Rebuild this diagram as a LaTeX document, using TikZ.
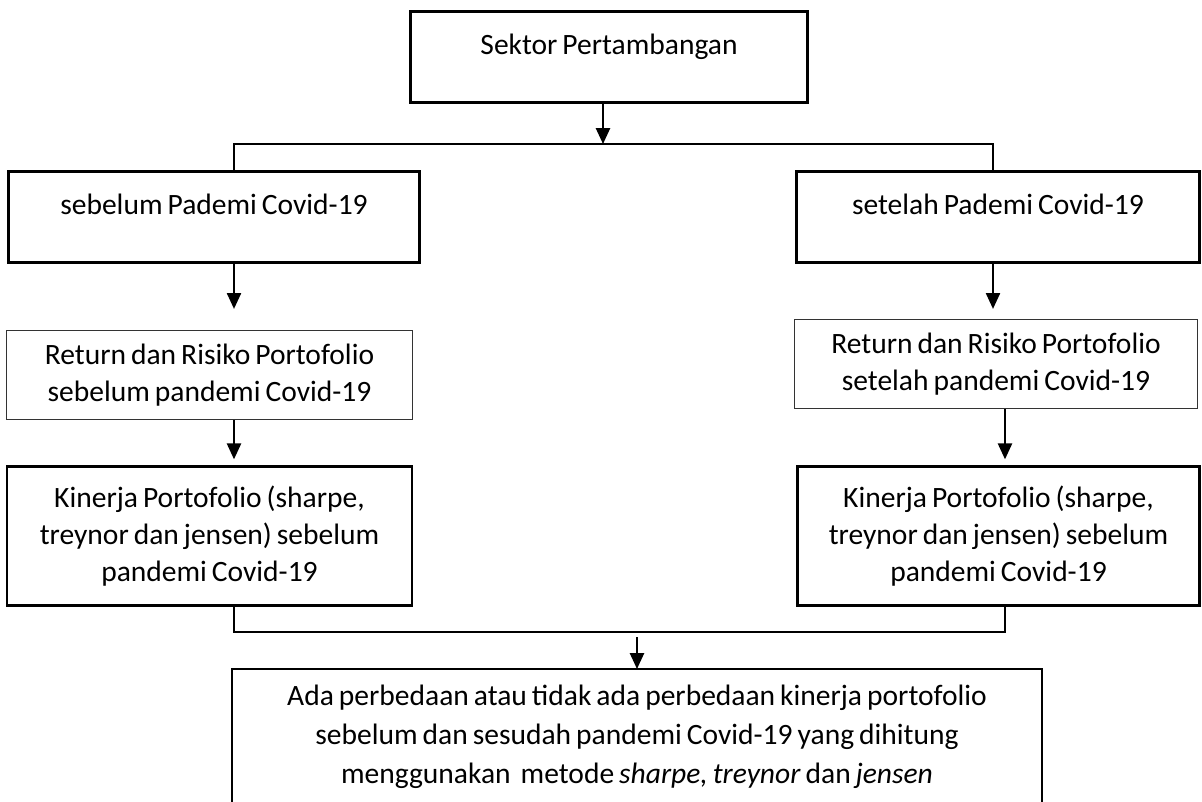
\documentclass[tikz,border=0pt]{standalone}
\usepackage{fontspec}
\setmainfont{Carlito}[WordSpace=0.75]
\usetikzlibrary{arrows.meta,positioning}

\begin{document}
\begin{tikzpicture}[x=0.1mm,y=-0.1mm,
    font=\fontsize{8.4pt}{10.5pt}\selectfont,
    >={Triangle[length=4.5pt,width=4pt]},
    garis/.style={line width=0.55pt},
    kotak/.style={draw,line width=0.8pt,align=center},
    kotaktipis/.style={draw=black!80,line width=0.4pt,align=center},
    judul/.style={kotak,inner ysep=0pt,text height=4.3mm,text depth=4.8mm}]

    \useasboundingbox (0,0) rectangle (1202,802);

    \node[judul,minimum width=39.7mm,minimum height=9.1mm] (sektor) at (609,57) {Sektor Pertambangan};

    \node[judul,minimum width=41.1mm,minimum height=9.1mm] (sebelum) at (214,217) {sebelum Pademi Covid-19};
    \node[judul,minimum width=40.3mm,minimum height=9.1mm] (setelah) at (998,217) {setelah Pademi Covid-19};

    \node[kotaktipis,minimum width=40.6mm,minimum height=8.9mm] (ret1) [below=6.6mm of sebelum,xshift=-0.45mm]
        {Return dan Risiko Portofolio\\sebelum pandemi Covid-19};
    \node[kotaktipis,minimum width=40.3mm,minimum height=8.9mm] (ret2) [below=5.5mm of setelah,xshift=-0.2mm]
        {Return dan Risiko Portofolio\\setelah pandemi Covid-19};

    \node[kotak,minimum width=40.5mm,minimum height=13.9mm] (kin1) [below=4.5mm of ret1]
        {Kinerja Portofolio (sharpe,\\treynor dan jensen) sebelum\\pandemi Covid-19};
    \node[kotak,minimum width=40.2mm,minimum height=13.9mm] (kin2) [below=5.6mm of ret2,xshift=0.25mm]
        {Kinerja Portofolio (sharpe,\\treynor dan jensen) sebelum\\pandemi Covid-19};

    \node[anchor=north,align=center,minimum width=80.8mm,inner ysep=1.5mm] (hasil) at (637,669)
        {Ada perbedaan atau tidak ada perbedaan kinerja portofolio\\[0.7pt]
         sebelum dan sesudah pandemi Covid-19 yang dihitung\\[0.7pt]
         menggunakan\ \ metode \textit{sharpe, treynor} dan \textit{jensen}};
    \draw[line width=0.6pt] (hasil.north west) rectangle ([yshift=-20mm]hasil.north east);

    % titik bantu
    \coordinate (kiri) at (234,0);
    \coordinate (kanan) at (993,0);
    \coordinate (kanan2) at (1005,0);
    \coordinate (cabang) at (603,144);
    \coordinate (gabung) at (637,632);

    \draw[garis,->] (sektor.south -| cabang) -- (cabang);
    \draw[garis] (sebelum.north -| kiri) |- (cabang) -| (setelah.north -| kanan);

    \draw[garis,->,shorten >=2.1mm] (sebelum.south -| kiri) -- (ret1.north -| kiri);
    \draw[garis,->,shorten >=0.6mm] (ret1.south -| kiri) -- (kin1.north -| kiri);
    \draw[garis,->,shorten >=1mm] (setelah.south -| kanan) -- (ret2.north -| kanan);
    \draw[garis,->,shorten >=0.6mm] (ret2.south -| kanan2) -- (kin2.north -| kanan2);

    \draw[garis] (kin1.south -| kiri) |- (gabung) -| (kin2.south -| kanan2);
    \draw[garis,->,shorten <=0.5mm] (gabung) -- (hasil.north);

\end{tikzpicture}
\end{document}
